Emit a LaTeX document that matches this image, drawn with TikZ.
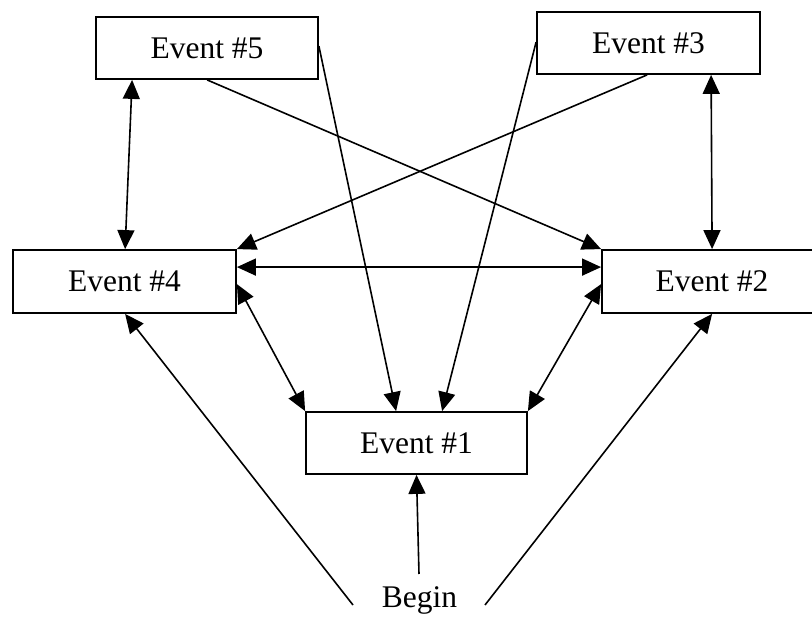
\documentclass[tikz,border=0pt]{standalone}
\usepackage{fontspec}
\setmainfont{Liberation Serif}
\usetikzlibrary{arrows.meta,calc}
\begin{document}
\begin{tikzpicture}[x=1pt,y=-1pt,
  evbox/.style={draw,line width=1.8pt,rectangle,inner sep=0pt,font=\fontsize{31.5}{36}\selectfont},
  conn/.style={line width=1.6pt},
  tip/.style={-{Triangle[length=19pt,width=17pt]}},
  twotip/.style={{Triangle[length=19pt,width=17pt]}-{Triangle[length=19pt,width=17pt]}}]
\useasboundingbox (0,0) rectangle (812,617);
\node[evbox,minimum width=222pt,minimum height=62pt] (e5) at (207,48) {Event \#5};
\node[evbox,minimum width=223pt,minimum height=62pt] (e3) at (648.5,43) {Event \#3};
\node[evbox,minimum width=223pt,minimum height=63pt] (e4) at (124.5,281.5) {Event \#4};
\node[evbox,minimum width=220pt,minimum height=63pt] (e2) at (712,281.5) {Event \#2};
\node[evbox,minimum width=221pt,minimum height=62pt] (e1) at (416.5,443) {Event \#1};
\node[font=\fontsize{31.5}{36}\selectfont,inner sep=0pt,anchor=base] (begin) at (419.5,608) {Begin};
\coordinate (bl) at ($(begin.base)+(-66.5,-3)$);
\coordinate (br) at ($(begin.base)+(65.5,-3)$);
\coordinate (bm) at ($(begin.base)+(-0.5,-34)$);
% edges
\draw[conn,twotip] ($(e5.south west)+(37,0)$) -- ($(e4.north west)+(113,0)$);
\draw[conn,twotip] ($(e3.south west)+(175,0)$) -- ($(e2.north west)+(111,0)$);
\draw[conn,tip] ($(e5.south west)+(112,0)$) -- (e2.north west);
\draw[conn,tip] ($(e3.south west)+(111,0)$) -- (e4.north east);
\draw[conn,tip] ($(e5.north east)+(0,30)$) -- ($(e1.north west)+(91,0)$);
\draw[conn,tip] ($(e3.north west)+(0,31)$) -- ($(e1.north west)+(137,0)$);
\draw[conn,twotip] ($(e4.north east)+(0,18)$) -- ($(e2.north west)+(0,18)$);
\draw[conn,twotip] ($(e4.north east)+(0,35)$) -- (e1.north west);
\draw[conn,twotip] ($(e2.north west)+(0,35)$) -- (e1.north east);
\draw[conn,tip] (bl) -- ($(e4.south west)+(113,0)$);
\draw[conn,tip] (br) -- ($(e2.south west)+(111,0)$);
\draw[conn,tip] (bm) -- (e1.south);
\end{tikzpicture}
\end{document}
